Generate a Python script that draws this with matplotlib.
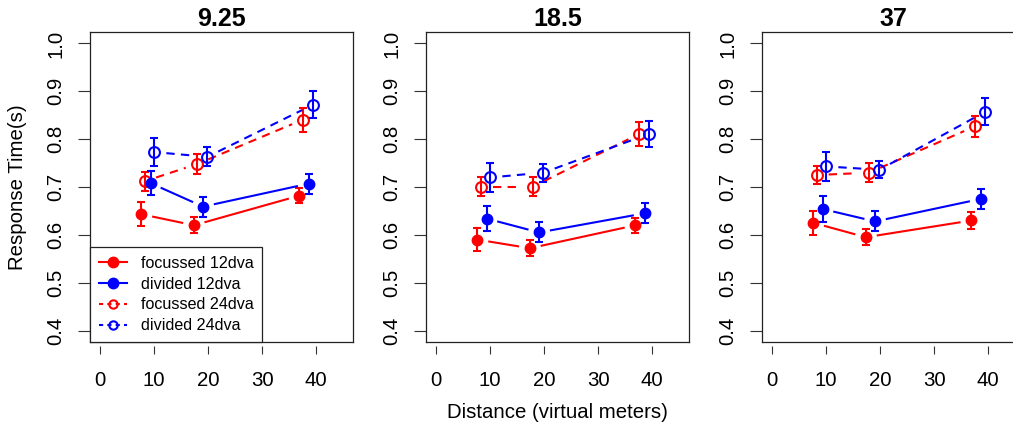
import numpy as np
import matplotlib
matplotlib.use("Agg")
import matplotlib.pyplot as plt
from matplotlib.lines import Line2D

plt.rcParams['font.family'] = ['Liberation Sans', 'DejaVu Sans']

# panel titles
panels = ["9.25", "18.5", "37"]

# x positions (distance, slightly dodged per series)
x_foc12 = [7.7, 17.4, 36.9]
x_div12 = [9.4, 19.1, 38.6]
x_foc24 = [8.3, 18.0, 37.6]
x_div24 = [10.1, 19.9, 39.4]

# mean response times, one row per panel
foc12 = [[0.643, 0.620, 0.682], [0.590, 0.572, 0.620], [0.625, 0.595, 0.630]]
div12 = [[0.708, 0.659, 0.707], [0.634, 0.605, 0.645], [0.654, 0.628, 0.675]]
foc24 = [[0.712, 0.748, 0.841], [0.701, 0.701, 0.811], [0.725, 0.730, 0.827]]
div24 = [[0.773, 0.763, 0.872], [0.720, 0.730, 0.811], [0.743, 0.736, 0.857]]

# error bar half widths
foc12_err = [[0.025, 0.017, 0.015], [0.024, 0.017, 0.016], [0.025, 0.017, 0.017]]
div12_err = [[0.025, 0.021, 0.021], [0.027, 0.021, 0.021], [0.027, 0.021, 0.021]]
foc24_err = [[0.020, 0.020, 0.025], [0.019, 0.019, 0.025], [0.019, 0.020, 0.022]]
div24_err = [[0.030, 0.020, 0.028], [0.030, 0.019, 0.028], [0.030, 0.018, 0.028]]

yticks = [0.4, 0.5, 0.6, 0.7, 0.8, 0.9, 1.0]
xticks = [0, 10, 20, 30, 40]
legend_labels = ["focussed 12dva", "divided 12dva", "focussed 24dva", "divided 24dva"]

RED = "#ff0000"
BLUE = "#0000ff"
W, H = 1013, 432
FS = 14.7


def gapped_line(ax, x, y, gap, **kw):
    # R type="b": line segments stop short of the points
    pts = ax.transData.transform(np.column_stack([x, y]))
    inv = ax.transData.inverted()
    for p0, p1 in zip(pts[:-1], pts[1:]):
        d = p1 - p0
        L = np.hypot(d[0], d[1])
        if L <= 2 * gap:
            continue
        u = d / L
        seg = inv.transform(np.array([p0 + u * gap, p1 - u * gap]))
        ax.plot(seg[:, 0], seg[:, 1], **kw)


def series(ax, x, y, e, color, dashed):
    ls = dict(color=color, lw=1.5)
    if dashed:
        ls.update(ls="--", dashes=(4, 3))
    gapped_line(ax, x, y, 12, **ls)
    ax.errorbar(x, y, yerr=e, fmt="none", ecolor=color, elinewidth=1.5,
                capsize=3.2, capthick=1.5)
    if dashed:
        ax.plot(x, y, "o", ms=7.8, mfc="none", mec=color, mew=1.5, ls="none")
    else:
        ax.plot(x, y, "o", ms=7.5, color=color, ls="none")


fig = plt.figure(figsize=(W / 100, H / 100), dpi=100)
lefts = [90, 426, 762]

for i, title in enumerate(panels):
    ax = fig.add_axes([lefts[i] / W, 90 / H, 263 / W, 310 / H])
    ax.set_xlim(-1.8, 46.8)
    ax.set_ylim(0.376, 1.024)
    for s in ax.spines.values():
        s.set_color("#222222")
        s.set_linewidth(0.9)

    series(ax, x_foc24, foc24[i], foc24_err[i], RED, True)
    series(ax, x_div24, div24[i], div24_err[i], BLUE, True)
    series(ax, x_foc12, foc12[i], foc12_err[i], RED, False)
    series(ax, x_div12, div12[i], div12_err[i], BLUE, False)

    ax.set_yticks(yticks)
    ax.set_yticklabels([f"{v:.1f}" for v in yticks], rotation=90, va="center")
    ax.tick_params(axis="y", length=8.6, width=0.8, pad=9, labelsize=FS,
                   color="#333333")
    ax.tick_params(axis="x", bottom=False, labelbottom=False)

    sec = ax.secondary_xaxis(-3.5 / 310)
    sec.set_xticks(xticks)
    sec.spines["bottom"].set_visible(False)
    sec.tick_params(length=6, width=0.8, pad=12.5, labelsize=FS, color="#333333")

    ax.set_title(title, fontsize=18, fontweight="bold", pad=4.5)

    if i == 0:
        handles = [
            Line2D([], [], color=RED, lw=1.5, marker="o", ms=7.5),
            Line2D([], [], color=BLUE, lw=1.5, marker="o", ms=7.5),
            Line2D([], [], color=RED, lw=1.5, ls="--", dashes=(2, 2), marker="o",
                   ms=6, mfc="none", mew=1.5),
            Line2D([], [], color=BLUE, lw=1.5, ls="--", dashes=(2, 2), marker="o",
                   ms=6, mfc="none", mew=1.5),
        ]
        leg = ax.legend(handles, legend_labels, loc="lower left",
                        bbox_to_anchor=(0, 0), borderaxespad=0, fontsize=11.6,
                        handlelength=1.75, handletextpad=0.85, labelspacing=0.36,
                        borderpad=0.55, fancybox=False, framealpha=1)
        leg.get_frame().set_edgecolor("#222222")
        leg.get_frame().set_linewidth(0.9)

fig.text(18 / W, 1 - 187 / H, "Response Time(s)", rotation=90, ha="center",
         va="center", fontsize=FS)
fig.text(557 / W, 1 - 413 / H, "Distance (virtual meters)", ha="center",
         va="center", fontsize=FS)

fig.savefig("out.png", dpi=100)
